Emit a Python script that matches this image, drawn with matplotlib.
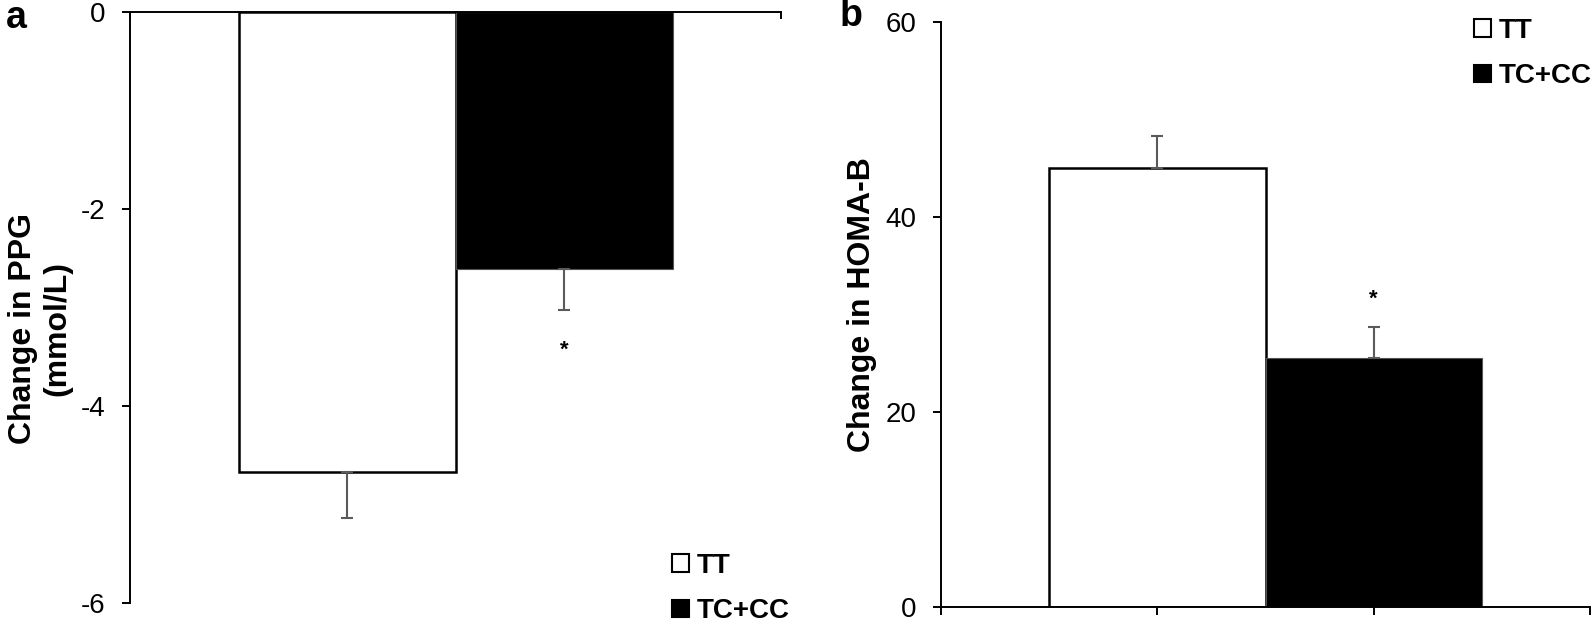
import numpy as np
import matplotlib.pyplot as plt
from matplotlib.patches import Patch

plt.rcParams['font.family'] = ['Liberation Sans', 'DejaVu Sans']
plt.rcParams['axes.unicode_minus'] = False

groups = ['TT', 'TC+CC']
positions = [1, 2]
fills = ['white', 'black']

# panel a: change in PPG (mmol/L)
ppg_mean = [-4.67, -2.61]
ppg_err = [0.47, 0.42]
ppg_ticks = [0, -2, -4, -6]

# panel b: change in HOMA-B
homa_mean = [45.0, 25.5]
homa_err = [3.3, 3.2]
homa_ticks = [0, 20, 40, 60]

err_col = '#5a5a5a'

fig = plt.figure(figsize=(15.92, 6.24), dpi=100)
axa = fig.add_axes([130/1592, 21/624, 651/1592, 591/624])
axb = fig.add_axes([941/1592, 17/624, 649/1592, 585/624])


def draw_bars(ax, mean, err):
    for x, m, e, c in zip(positions, mean, err, fills):
        ec = 'black' if c == 'white' else '#555555'
        lw = 1.8 if c == 'white' else 0.8
        ax.bar(x, m, width=1.0, color=c, edgecolor=ec, linewidth=lw, zorder=2)
        lo, hi = (e, 0) if m < 0 else (0, e)
        ax.errorbar(x, m, yerr=[[lo], [hi]], fmt='none', ecolor=err_col,
                    elinewidth=1.5, capsize=4, capthick=1.5, zorder=3)


draw_bars(axa, ppg_mean, ppg_err)
draw_bars(axb, homa_mean, homa_err)

# significance stars
axa.text(positions[1], ppg_mean[1] - ppg_err[1] - 0.40, '*', ha='center', va='center',
         fontsize=16, fontweight='bold')
axb.text(positions[1], homa_mean[1] + homa_err[1] + 2.9, '*', ha='center', va='center',
         fontsize=16, fontweight='bold')

for ax in (axa, axb):
    ax.set_xlim(0, 3)
    ax.set_xticks([0, 1, 2, 3])
    ax.set_xticklabels([])
    ax.spines['right'].set_visible(False)
    for s in ax.spines.values():
        s.set_linewidth(1.4)
    ax.tick_params(axis='y', direction='out', length=6, width=1.4, labelsize=20, pad=12)

axa.set_ylim(-6, 0)
axa.set_yticks(ppg_ticks)
axa.spines['bottom'].set_visible(False)
axa.xaxis.tick_top()
axa.tick_params(axis='x', direction='in', length=5, width=1.4, top=True, bottom=False,
                labeltop=False)

axb.set_ylim(0, 60)
axb.set_yticks(homa_ticks)
axb.spines['top'].set_visible(False)
axb.tick_params(axis='x', direction='out', length=6, width=1.4)

# axis titles and panel letters
fig.text(40/1592, 1 - 328/624, 'Change in PPG\n(mmol/L)', rotation=90, ha='center',
         va='center', fontsize=23, fontweight='bold', multialignment='center', linespacing=1.2)
fig.text(862/1592, 1 - 305/624, 'Change in HOMA-B', rotation=90, ha='center',
         va='center', fontsize=23, fontweight='bold')
fig.text(16/1592, 1 - 18/624, 'a', ha='center', va='center', fontsize=27, fontweight='bold')
fig.text(851/1592, 1 - 16/624, 'b', ha='center', va='center', fontsize=27, fontweight='bold')

handles = [Patch(facecolor=c, edgecolor='black', linewidth=1.5) for c in fills]
for ax, anchor in ((axa, (672/1592, 1 - 553/624)), (axb, (1474/1592, 1 - 18/624))):
    ax.legend(handles, groups, loc='upper left', bbox_to_anchor=anchor,
              bbox_transform=fig.transFigure, frameon=False, borderpad=0,
              borderaxespad=0, handlelength=0.6, handleheight=0.6, handletextpad=0.3,
              labelspacing=0.7, prop={'size': 20, 'weight': 'bold'})

fig.savefig('out.png', dpi=100)
